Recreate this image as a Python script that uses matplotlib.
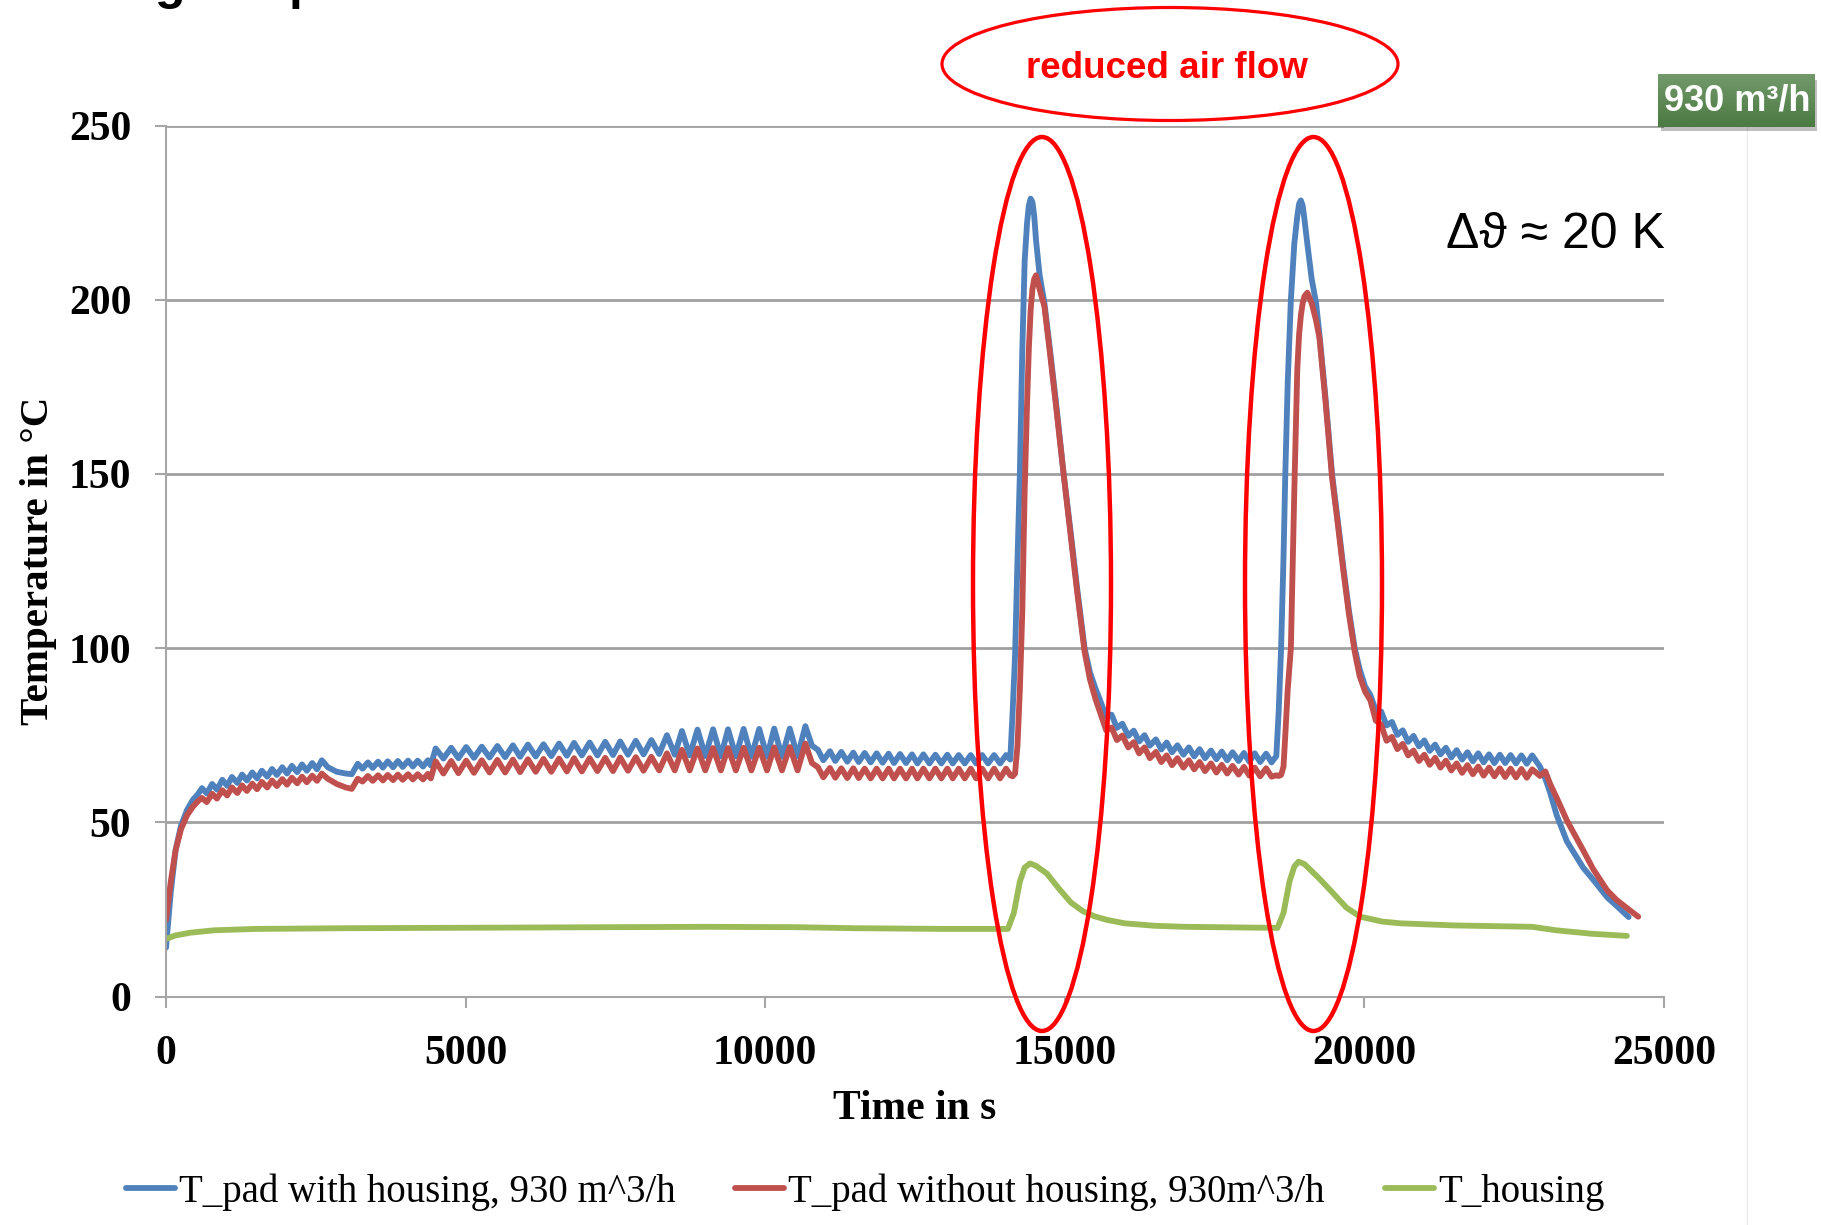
import matplotlib
matplotlib.use("Agg")
import matplotlib.pyplot as plt
import numpy as np
from matplotlib.colors import LinearSegmentedColormap
from matplotlib.lines import Line2D
from matplotlib.patches import Ellipse, Rectangle

# time in s, shared by both pad temperature curves
time_pad = [
    0, 80, 160, 250, 350, 450, 530,
    600, 680, 770, 850, 940, 1020, 1100, 1190, 1270, 1350, 1440, 1520, 1600,
    1690, 1770, 1850, 1940, 2020, 2100, 2190, 2270, 2350, 2440, 2520, 2600,
    2700, 2850, 3000, 3100,
    3200, 3280, 3370, 3450, 3540, 3620, 3700, 3790, 3870, 3950, 4040, 4120,
    4200, 4290, 4370, 4420,
    4500, 4630, 4760, 4880, 5010, 5140, 5270, 5400, 5530, 5660, 5790, 5910,
    6040, 6170, 6300, 6430, 6560, 6690, 6810, 6940, 7070, 7200, 7330, 7460,
    7580, 7710, 7840, 7970, 8100, 8230, 8360, 8490, 8610, 8740, 8870, 9000,
    9130, 9260, 9380, 9510, 9640, 9770, 9900, 10030, 10150, 10280, 10410,
    10540, 10670,
    10780, 10880, 10970, 11080, 11170, 11270, 11370, 11470, 11560, 11660,
    11760, 11860, 11960, 12060, 12150, 12250, 12350, 12450, 12540, 12640,
    12740, 12840, 12940, 13040, 13130, 13230, 13330, 13430, 13520, 13620,
    13720, 13820, 13920, 14020,
    14090, 14130, 14170, 14210, 14250, 14290, 14330, 14370, 14400, 14430,
    14460, 14490, 14520, 14580, 14660, 14750, 14850, 14980, 15100, 15200,
    15330, 15420, 15510,
    15600, 15690, 15780, 15870, 15960, 16060, 16150, 16240, 16330, 16420,
    16520, 16610, 16700, 16790, 16880, 16980, 17070, 17160, 17250, 17340,
    17440, 17530, 17620, 17710, 17800, 17900, 17990, 18080, 18170, 18260,
    18360, 18450,
    18530, 18570, 18610, 18650, 18680, 18720, 18773, 18830, 18880, 18910,
    18940, 18970, 19000, 19048, 19120, 19194, 19250, 19350, 19460, 19560,
    19650, 19740, 19838, 19920, 20012,
    20100, 20190, 20280, 20370, 20460, 20550, 20640, 20730, 20820, 20910,
    21000, 21090, 21180, 21270, 21360, 21450, 21540, 21630, 21720, 21810,
    21900, 21990, 22080, 22170, 22260, 22350, 22440, 22530, 22620, 22710, 22800,
    22930, 23020, 23100, 23210, 23380, 23650, 23820, 24050, 24210, 24410, 24570,
]

t_pad_housing = [
    14, 30, 42, 49, 53.5, 56.5, 58,
    59.8, 58.3, 61.0, 59.4, 62.2, 60.5, 63.0, 61.3, 63.7, 62.0, 64.3, 62.6, 64.8,
    63.1, 65.3, 63.6, 65.8, 64.0, 66.2, 64.4, 66.6, 64.8, 67.0, 65.2, 67.8,
    65.8, 64.5, 64.0, 63.8,
    66.8, 65.4, 67.2, 65.6, 67.4, 65.7, 67.5, 65.8, 67.6, 65.9, 67.7, 66.0,
    67.7, 66.0, 67.8, 66.3,
    71.2, 68.3, 71.4, 68.4, 71.6, 68.5, 71.7, 68.6, 71.9, 68.7, 72.1, 68.8,
    72.3, 68.9, 72.4, 69.0, 72.6, 69.1, 72.8, 69.2, 72.9, 69.2, 73.1, 69.3,
    73.2, 69.4, 73.4, 69.5, 73.6, 69.6, 75.0, 69.4, 76.2, 69.2, 76.6, 69.0,
    76.7, 68.9, 76.7, 68.9, 76.8, 68.8, 76.8, 68.8, 76.9, 68.8, 76.9,
    68.9, 77.6,
    72.0, 70.8, 67.8, 70.4, 67.6, 70.2, 67.4, 70.0, 67.3, 69.9,
    67.2, 69.8, 67.1, 69.7, 67.0, 69.6, 67.0, 69.5, 66.9, 69.5,
    66.9, 69.4, 66.9, 69.4, 66.9, 69.3, 66.9, 69.3, 66.9, 69.3,
    66.9, 69.3, 66.9, 69.3,
    68, 82, 98, 125, 150, 185, 211, 222, 227, 229,
    228, 224, 217, 207, 199, 186, 171, 150, 133, 118,
    100, 93, 88.5,
    84.5, 80.3, 80.9, 77.1, 78.3, 74.8, 76.3, 73.2, 75.0, 72.0,
    73.8, 70.9, 72.9, 70.1, 72.1, 69.4, 71.5, 68.9, 71.0, 68.4,
    70.6, 68.1, 70.3, 67.8, 70.1, 67.6, 69.9, 67.4, 69.8, 67.3,
    69.7, 67.2,
    69, 82, 100, 126, 150, 176, 200, 216, 224, 227.5,
    228.5, 227, 223, 216, 206, 199, 190, 172, 150, 136,
    123, 111, 100, 94, 89,
    86.5, 82.1, 81.8, 77.8, 78.8, 75.1, 76.4, 73.1, 74.8, 71.8,
    73.5, 70.5, 72.3, 69.5, 71.4, 68.6, 70.7, 68.0, 70.1, 67.5,
    69.8, 67.2, 69.5, 67.0, 69.4, 67.0, 69.3, 66.9, 69.2, 66.8, 69.2,
    66.0, 62.5, 58.5, 52.0, 44.5, 37.0, 33.5, 28.5, 26.0, 22.8, None,
]

t_pad_no_housing = [
    22, 33, 42, 48, 52, 54.5, 56,
    57.0, 55.8, 58.2, 56.8, 59.2, 57.7, 60.0, 58.4, 60.6, 59.0, 61.1, 59.5, 61.6,
    60.0, 62.0, 60.4, 62.4, 60.8, 62.8, 61.2, 63.1, 61.5, 63.4, 61.9, 64.0,
    62.5, 61.0, 60.0, 59.6,
    62.5, 61.7, 63.3, 61.9, 63.5, 62.0, 63.6, 62.1, 63.7, 62.2, 63.8, 62.3,
    63.8, 62.3, 63.9, 62.6,
    67.5, 64.0, 67.6, 64.1, 67.7, 64.2, 67.8, 64.3, 67.9, 64.3, 68.0, 64.4,
    68.1, 64.5, 68.2, 64.5, 68.3, 64.6, 68.4, 64.6, 68.4, 64.7, 68.5, 64.7,
    68.6, 64.8, 68.7, 64.8, 68.8, 64.9, 69.8, 64.9, 70.8, 64.9, 71.2, 64.9,
    71.3, 64.9, 71.3, 64.9, 71.4, 64.9, 71.4, 64.9, 71.5, 64.9, 71.6,
    64.9, 72.6,
    67.0, 65.8, 62.9, 65.6, 62.8, 65.5, 62.7, 65.5, 62.7, 65.4,
    62.6, 65.4, 62.6, 65.4, 62.6, 65.4, 62.6, 65.4, 62.6, 65.4,
    62.6, 65.4, 62.6, 65.4, 62.6, 65.4, 62.6, 65.4, 62.6, 65.4,
    62.6, 65.4, 62.6, 65.4,
    63.5, 63.2, 64, 72, 88, 110, 145, 170, 186, 197,
    203, 206, 207, 203, 198, 185, 170, 150, 132, 117,
    99, 91, 85.5,
    81.0, 76.4, 77.2, 73.6, 74.9, 71.5, 73.0, 69.8, 71.5, 68.4,
    70.2, 67.3, 69.2, 66.4, 68.4, 65.7, 67.8, 65.2, 67.3, 64.7,
    66.9, 64.3, 66.5, 64.0, 66.2, 63.7, 65.9, 63.4, 65.7, 63.2,
    65.5, 63.1,
    63.5, 63.3, 63.6, 66, 75, 88, 100, 145, 180, 190,
    195.5, 199, 201, 202, 199, 194, 189, 171, 149, 135,
    122, 110, 99, 92, 87.5,
    85.0, 79.2, 78.0, 73.4, 74.5, 71.0, 72.5, 69.2, 70.6, 67.6,
    69.4, 66.5, 68.5, 65.7, 67.7, 64.9, 66.9, 64.2, 66.4, 63.8,
    66.0, 63.4, 65.7, 63.2, 65.5, 63.0, 65.4, 62.9, 65.3, 62.8, 65.2,
    63.3, 64.6, 61.0, 57.0, 50.5, 42.0, 36.5, 30.5, 27.7, 25.0, 22.9,
]

time_housing = [
    0, 150, 400, 800, 1500, 3000, 6000, 9000, 10500, 11500, 13000, 14050,
    14150, 14250, 14330, 14420, 14520, 14700, 14900, 15100, 15300, 15500,
    15700, 16000, 16500, 17000, 18000, 18550, 18650, 18750, 18830, 18900,
    19000, 19250, 19480, 19700, 19930, 20300, 20600, 21500, 22800, 23200,
    23800, 24380,
]
t_housing = [
    16.5, 17.5, 18.3, 19.0, 19.4, 19.6, 19.8, 20.0, 19.9, 19.6, 19.4, 19.4,
    24.0, 33.0, 37.0, 38.2, 37.5, 35.3, 31.0, 27.0, 24.5, 23.0,
    22.0, 21.0, 20.3, 20.0, 19.8, 19.7, 24.0, 33.0, 37.3, 38.7,
    38.0, 33.8, 29.6, 25.5, 22.9, 21.5, 21.0, 20.4, 20.0, 19.0,
    18.0, 17.4,
]

x_ticks = [0, 5000, 10000, 15000, 20000, 25000]
y_ticks = [0, 50, 100, 150, 200, 250]
labels = [
    "T_pad with housing, 930 m^3/h",
    "T_pad without housing, 930m^3/h",
    "T_housing",
]
colors = ["#4F81BD", "#C0504D", "#9BBB59"]

assert len(time_pad) == len(t_pad_housing) == len(t_pad_no_housing)
assert len(time_housing) == len(t_housing)

W, H = 1821, 1225
plt.rcParams["font.family"] = ["Liberation Serif", "DejaVu Serif"]
sans = ["Liberation Sans", "DejaVu Sans"]


def fx(px):
    return px / W


def fy(py):
    return 1 - py / H


fig = plt.figure(figsize=(W / 100, H / 100), dpi=100)
ax = fig.add_axes([fx(166), fy(996.5), fx(1664) - fx(166), fy(125.5) - fy(996.5)])

lines = []
for t, v, c, lab in [
    (time_pad, t_pad_housing, colors[0], labels[0]),
    (time_pad, t_pad_no_housing, colors[1], labels[1]),
    (time_housing, t_housing, colors[2], labels[2]),
]:
    ln, = ax.plot(np.array(t, dtype=float), np.array(v, dtype=float),
                  color=c, lw=4.2, label=lab, solid_joinstyle="round",
                  solid_capstyle="round")
    lines.append(ln)

ax.set_xlim(0, 25000)
ax.set_ylim(0, 250)
ax.set_xticks(x_ticks)
ax.set_yticks(y_ticks)
ax.set_xticklabels([str(v) for v in x_ticks], fontweight="bold", fontsize=30)
ax.set_yticklabels([str(v) for v in y_ticks], fontweight="bold", fontsize=30)
ax.tick_params(axis="both", direction="out", length=8, width=1.5, color="#a6a6a6")
ax.tick_params(axis="y", pad=17)
ax.tick_params(axis="x", pad=20)
ax.grid(axis="y", color="#a0a0a0", lw=2)
ax.set_axisbelow(True)
for s in ["top", "right"]:
    ax.spines[s].set_visible(False)
for s in ["left", "bottom"]:
    ax.spines[s].set_color("#a6a6a6")
    ax.spines[s].set_linewidth(1.5)

ax.set_xlabel("Time in s", fontweight="bold", fontsize=30, va="center")
ax.xaxis.set_label_coords(0.5, (996.5 - 1109) / 871)
ax.set_ylabel("Temperature in °C", fontweight="bold", fontsize=29.5, va="center")
ax.yaxis.set_label_coords((38.5 - 166) / 1498, 0.5)

fig.legend(lines, labels, loc="center", bbox_to_anchor=(fx(865), fy(1192)),
           ncol=3, frameon=False, fontsize=28, handlelength=1.26,
           handletextpad=0.1, columnspacing=1.55, borderpad=0, borderaxespad=0)

# red annotation ellipses
for cx, cy, w, h, lw in [(1170, 64, 456, 113, 2.3),
                         (1042, 584, 138, 894, 3.2),
                         (1313.5, 584, 137, 894, 3.2)]:
    fig.add_artist(Ellipse((fx(cx), fy(cy)), w / W, h / H, transform=fig.transFigure,
                           fill=False, edgecolor="#ff0000", lw=lw, zorder=6))
fig.text(fx(1167), fy(78), "reduced air flow", color="#ff0000", fontsize=26.5,
         fontweight="bold", family=sans, ha="center", va="baseline", zorder=7)

fig.text(fx(1446), fy(235), "Δϑ ≈ 20 K", fontsize=36, family=sans,
         ha="left", va="center", zorder=7)

# cut-off slide title fragments at the top edge
fig.text(fx(155), fy(-1), "g", fontsize=36, fontweight="bold", family=sans, va="baseline")
fig.text(fx(288.5), fy(-1), "p", fontsize=36, fontweight="bold", family=sans, va="baseline")

# faint slide border on the right
fig.add_artist(Line2D([fx(1747), fx(1747)], [0, fy(127)], transform=fig.transFigure,
                      color="#ebebeb", lw=1))

# green flow-rate badge
fig.add_artist(Rectangle((fx(1661), fy(131)), 156 / W, 51 / H, transform=fig.transFigure,
                         color="black", alpha=0.25, lw=0, zorder=4))
box = fig.add_axes([fx(1658), fy(127), 157 / W, 53 / H], zorder=5)
grad = LinearSegmentedColormap.from_list("badge", ["#4b7a42", "#73996b"])
box.imshow(np.linspace(0, 1, 50)[:, None], cmap=grad, aspect="auto",
           extent=[0, 1, 0, 1], origin="lower")
box.axis("off")
fig.text(fx(1737), fy(101), "930 m³/h", color="white", fontsize=26,
         fontweight="bold", family=sans, ha="center", va="center", zorder=7)

fig.savefig("out.png", dpi=100)
